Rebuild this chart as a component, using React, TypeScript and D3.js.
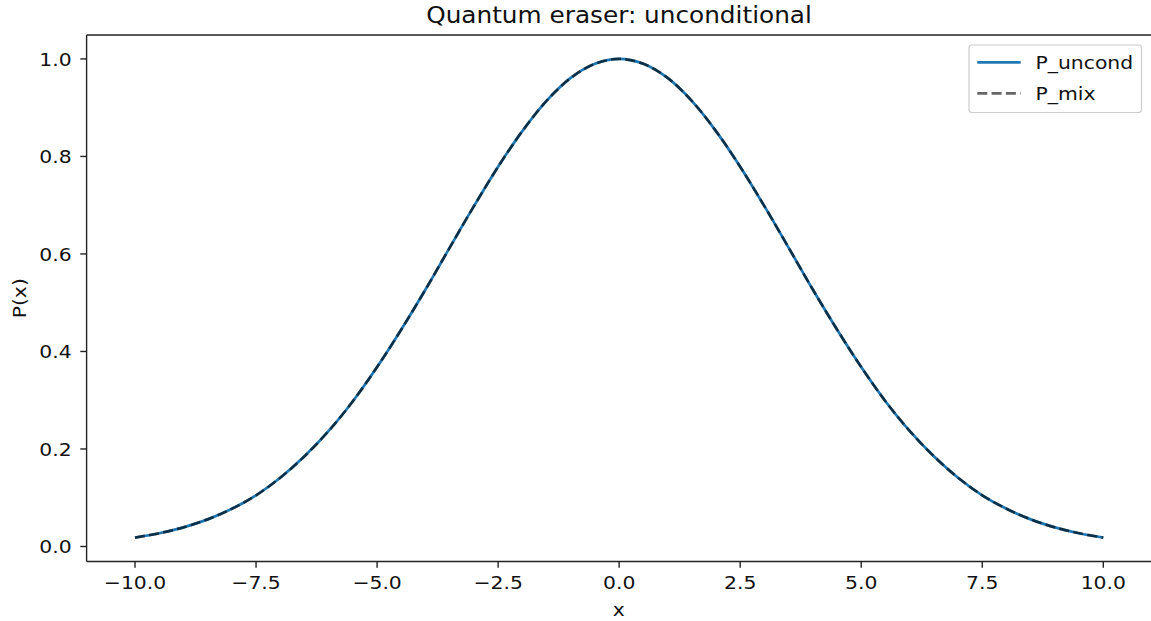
import React from "react";
import * as d3 from "d3";

const xValues = [
  -10, -9.5, -9, -8.5, -8, -7.5, -7, -6.5, -6, -5.5, -5, -4.5, -4, -3.5, -3, -2.5, -2, -1.5, -1, -0.5,
  0, 0.5, 1, 1.5, 2, 2.5, 3, 3.5, 4, 4.5, 5, 5.5, 6, 6.5, 7, 7.5, 8, 8.5, 9, 9.5, 10,
];
const pUncond = [
  0.0183, 0.0271, 0.0392, 0.0556, 0.0773, 0.105, 0.141, 0.185, 0.237, 0.298, 0.368, 0.445, 0.527, 0.613,
  0.698, 0.779, 0.852, 0.914, 0.961, 0.99, 1.0, 0.99, 0.961, 0.914, 0.852, 0.779, 0.698, 0.613, 0.527,
  0.445, 0.368, 0.298, 0.237, 0.185, 0.141, 0.105, 0.0773, 0.0556, 0.0392, 0.0271, 0.0183,
];
const pMix = [
  0.0183, 0.0271, 0.0392, 0.0556, 0.0773, 0.105, 0.141, 0.185, 0.237, 0.298, 0.368, 0.445, 0.527, 0.613,
  0.698, 0.779, 0.852, 0.914, 0.961, 0.99, 1.0, 0.99, 0.961, 0.914, 0.852, 0.779, 0.698, 0.613, 0.527,
  0.445, 0.368, 0.298, 0.237, 0.185, 0.141, 0.105, 0.0773, 0.0556, 0.0392, 0.0271, 0.0183,
];
const xTicks = [-10, -7.5, -5, -2.5, 0, 2.5, 5, 7.5, 10];
const yTicks = [0, 0.2, 0.4, 0.6, 0.8, 1.0];
const seriesNames = ["P_uncond", "P_mix"];

const W = 1151;
const H = 621;
const L = 86.6;
const R = 1151.7;
const T = 35;
const B = 561.5;
const FONT = "DejaVu Sans, sans-serif";
const SX = 1.1;

function Txt(props: {
  x: number;
  y: number;
  size: number;
  anchor?: "start" | "middle" | "end";
  dy?: string;
  rotate?: number;
  children: React.ReactNode;
}) {
  const { x, y, size, anchor = "start", dy, rotate = 0, children } = props;
  const tr = rotate ? `translate(${x},${y}) rotate(${rotate}) scale(${SX},1)` : `translate(${x},${y}) scale(${SX},1)`;
  return (
    <text transform={tr} textAnchor={anchor} dy={dy} fontFamily={FONT} fontSize={size} fill="#111">
      {children}
    </text>
  );
}

export default function App() {
  const x = d3.scaleLinear().domain([-11, 11]).range([L, R]);
  const y = d3.scaleLinear().domain([-0.0308, 1.0491]).range([B, T]);
  const line = d3
    .line<number>()
    .x((_, i) => x(xValues[i]))
    .y((d) => y(d))
    .curve(d3.curveCatmullRom);
  const fmt = (v: number) => (v < 0 ? "\u2212" : "") + Math.abs(v).toFixed(1);

  return (
    <svg width={W} height={H} style={{ position: "absolute", left: 0, top: 0, background: "#fff" }}>
      <rect x={0} y={0} width={W} height={H} fill="#fff" />
      <defs>
        <clipPath id="plot">
          <rect x={L} y={T} width={R - L} height={B - T} />
        </clipPath>
      </defs>
      <g clipPath="url(#plot)">
        <path d={line(pUncond) || ""} fill="none" stroke="#1f77b4" strokeWidth={2.7} />
        <path
          d={line(pMix) || ""}
          fill="none"
          stroke="#000"
          strokeOpacity={0.6}
          strokeWidth={2.7}
          strokeDasharray="10,4.3"
        />
      </g>
      <g stroke="#222" strokeWidth={1.4} fill="none">
        <line x1={L} x2={L} y1={T} y2={B} />
        <line x1={L} x2={R} y1={B} y2={B} />
        <line x1={L} x2={R} y1={T} y2={T} />
        <line x1={R} x2={R} y1={T} y2={B} />
      </g>
      {xTicks.map((t) => (
        <g key={"x" + t}>
          <line x1={x(t)} x2={x(t)} y1={B} y2={B + 6.3} stroke="#222" strokeWidth={1.4} />
          <Txt x={x(t)} y={B + 27} size={18.5} anchor="middle">
            {fmt(t)}
          </Txt>
        </g>
      ))}
      {yTicks.map((t) => (
        <g key={"y" + t}>
          <line x1={L - 6.3} x2={L} y1={y(t)} y2={y(t)} stroke="#222" strokeWidth={1.4} />
          <Txt x={L - 15} y={y(t)} dy="0.36em" size={18.5} anchor="end">
            {fmt(t)}
          </Txt>
        </g>
      ))}
      <Txt x={(L + R) / 2 - 0.5} y={616} size={18.5} anchor="middle">
        x
      </Txt>
      <Txt x={26} y={(T + B) / 2} size={18.5} anchor="middle" rotate={-90}>
        P(x)
      </Txt>
      <Txt x={619} y={23} size={22.5} anchor="middle">
        Quantum eraser: unconditional
      </Txt>
      <g>
        <rect x={969} y={45} width={172.5} height={67.5} rx={3} fill="#fff" fillOpacity={0.8} stroke="#ccc" strokeWidth={1.2} />
        <line x1={977.3} x2={1020.7} y1={62.3} y2={62.3} stroke="#1f77b4" strokeWidth={2.7} />
        <line
          x1={977.3}
          x2={1020.7}
          y1={93.3}
          y2={93.3}
          stroke="#000"
          strokeOpacity={0.6}
          strokeWidth={2.7}
          strokeDasharray="10,4.3"
        />
        <Txt x={1035.5} y={62.3} dy="0.36em" size={18.5}>
          {seriesNames[0]}
        </Txt>
        <Txt x={1035.5} y={93.3} dy="0.36em" size={18.5}>
          {seriesNames[1]}
        </Txt>
      </g>
    </svg>
  );
}
